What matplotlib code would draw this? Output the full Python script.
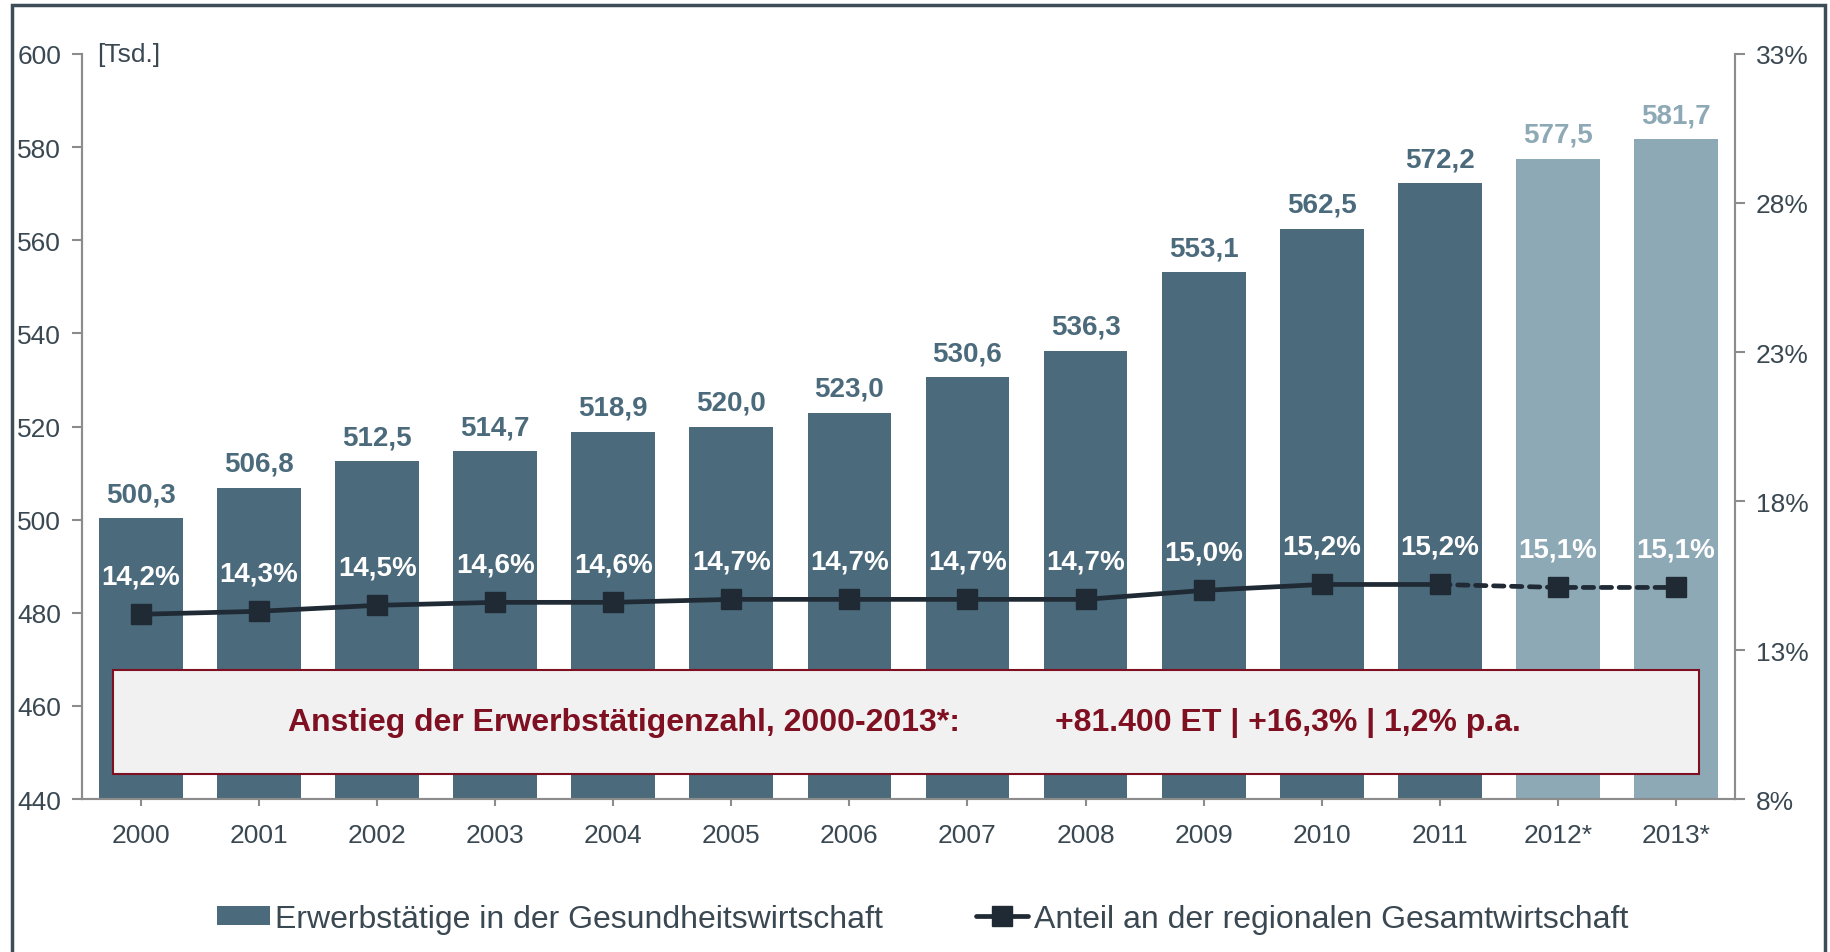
import numpy as np
import matplotlib.pyplot as plt
from matplotlib.lines import Line2D
from matplotlib.patches import Patch, Rectangle

plt.rcParams['font.family'] = ['Liberation Sans', 'DejaVu Sans']

# Daten
jahre = ['2000', '2001', '2002', '2003', '2004', '2005', '2006',
         '2007', '2008', '2009', '2010', '2011', '2012*', '2013*']
erwerbstaetige = [500.3, 506.8, 512.5, 514.7, 518.9, 520.0, 523.0,
                  530.6, 536.3, 553.1, 562.5, 572.2, 577.5, 581.7]
anteil = [14.2, 14.3, 14.5, 14.6, 14.6, 14.7, 14.7,
          14.7, 14.7, 15.0, 15.2, 15.2, 15.1, 15.1]
prognose = [False] * 12 + [True] * 2

# Farben
dunkel = '#4b6a7b'
hell = '#8ea9b6'
linie = '#1f2a35'
textfarbe = '#3a4852'
rot = '#7f1022'
grau = '#8c8c8c'

fig = plt.figure(figsize=(18.31, 9.53), dpi=100)
ax = fig.add_axes([0.0448, 0.1605, 0.9027, 0.7818])
ax2 = ax.twinx()

x = np.arange(len(jahre))
farben = [hell if p else dunkel for p in prognose]
ax.bar(x, [v - 440 for v in erwerbstaetige], bottom=440, width=0.71, color=farben, zorder=2)
ax.set_xlim(-0.5, 13.5)
ax.set_ylim(440, 600)
ax.set_yticks(np.arange(440, 601, 20))
ax.set_xticks(x)
ax.set_xticklabels(jahre)

for xi, v, c in zip(x, erwerbstaetige, farben):
    ax.annotate(f'{v:.1f}'.replace('.', ','), (xi, v), xytext=(0, 8), textcoords='offset points',
                ha='center', va='bottom', fontsize=20, fontweight='bold', color=c)

# Anteil-Linie
n_ist = 12
ax2.plot(x[:n_ist], anteil[:n_ist], color=linie, lw=3.4, zorder=3)
ax2.plot(x[n_ist - 1:], anteil[n_ist - 1:], color=linie, lw=3.4, ls=(0, (2.2, 1.6)),
         dash_capstyle='round', zorder=3)
ax2.plot(x, anteil, ls='none', marker='s', ms=15, color=linie, zorder=4)
ax2.set_ylim(8, 33)
ax2.set_yticks([8, 13, 18, 23, 28, 33])
ax2.set_yticklabels([f'{t}%' for t in [8, 13, 18, 23, 28, 33]])
for xi, a in zip(x, anteil):
    ax2.annotate(f'{a:.1f}%'.replace('.', ','), (xi, a), xytext=(0, 27), textcoords='offset points',
                 ha='center', va='center', fontsize=20, fontweight='bold', color='white', zorder=5)

for a in (ax, ax2):
    a.spines['top'].set_visible(False)
    for s in ('left', 'right', 'bottom'):
        a.spines[s].set_color(grau)
        a.spines[s].set_linewidth(1.5)
    a.tick_params(colors=grau, labelcolor=textfarbe, labelsize=19, width=1.5, length=7)
ax.tick_params(axis='y', pad=8)
ax2.tick_params(axis='y', pad=8)
ax.tick_params(axis='x', length=5, pad=12)

ax.text(0.009, 1.0, '[Tsd.]', transform=ax.transAxes, ha='left', va='center',
        fontsize=19, color=textfarbe)

# Textbox
ax2.add_patch(Rectangle((0.0185, 0.0338), 0.9597, 0.1394, facecolor='#f1f1f1', edgecolor=rot,
                        lw=1.5, zorder=6, transform=ax.transAxes))
ax2.text(0.1245, 0.1035, 'Anstieg der Erwerbstätigenzahl, 2000-2013*:', transform=ax.transAxes,
         ha='left', va='center', fontsize=23, fontweight='bold', color=rot, zorder=7)
ax2.text(0.5885, 0.1035, '+81.400 ET | +16,3% | 1,2% p.a.', transform=ax.transAxes,
         ha='left', va='center', fontsize=23, fontweight='bold', color=rot, zorder=7)

# Legende
handles = [Patch(facecolor=dunkel, edgecolor='none'),
           Line2D([0], [0], color=linie, lw=3.4, marker='s', ms=15, solid_capstyle='round')]
fig.legend(handles, ['Erwerbstätige in der Gesundheitswirtschaft', 'Anteil an der regionalen Gesamtwirtschaft'],
           loc='center', bbox_to_anchor=(0.504, 0.035), ncol=2, frameon=False, fontsize=23,
           labelcolor=textfarbe, handlelength=1.64, handleheight=0.55, handletextpad=0.18,
           columnspacing=2.9)

# Rahmen
fig.add_artist(Rectangle((12 / 1831, -0.01), (1825 - 12) / 1831, 1 - 6 / 953 + 0.01,
                         transform=fig.transFigure, fill=False, edgecolor='#3d4d58', lw=2.5))

plt.savefig('out.png', dpi=100)
